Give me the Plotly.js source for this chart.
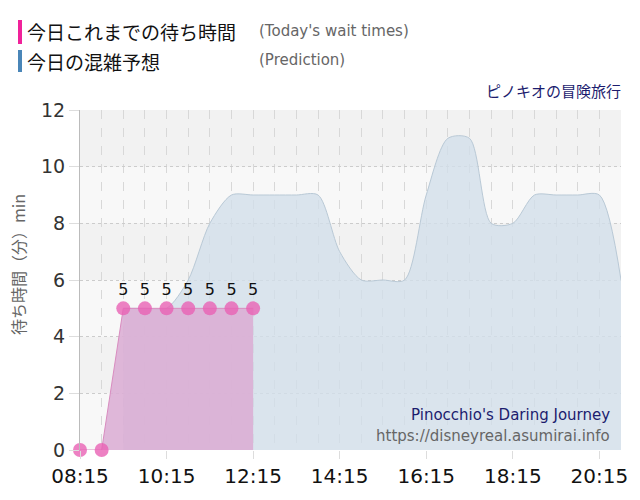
<!DOCTYPE html>
<html>
<head>
<meta charset="utf-8">
<script src="https://cdn.plot.ly/plotly-3.0.1.min.js"></script>
<style>html,body{margin:0;padding:0;background:#fff;}#chart{width:640px;height:500px;}</style>
</head>
<body>
<div id="chart"></div>
<script>
// Today's actual wait times (minutes)
const actualTimes = ["08:15","08:45","09:15","09:45","10:15","10:45","11:15","11:45","12:15"];
const actualWaits = [0, 0, 5, 5, 5, 5, 5, 5, 5];

// Predicted wait times (minutes)
const predTimes = ["09:15","09:45","10:15","10:45","11:15","11:45","12:15","12:45","13:15","13:45",
                   "14:15","14:45","15:15","15:45","16:15","16:45","17:15","17:45","18:15","18:45",
                   "19:15","19:45","20:15","20:45"];
const predWaits = [5, 5, 5, 6, 8, 9, 9, 9, 9, 9,
                   7, 6, 6, 6, 9, 11, 11, 8, 8, 9,
                   9, 9, 9, 6];

const day = "2024-01-01 ";
const toDate = t => day + t;

const px = x => (x - 80) / 541;
const py = y => (450 - y) / 340;

const jp = '"Noto Sans CJK JP", "Noto Sans", sans-serif';
const lat = '"DejaVu Sans", Verdana, sans-serif';

const traces = [
  {
    x: predTimes.map(toDate), y: predWaits,
    type: 'scatter', mode: 'lines',
    line: {shape: 'spline', smoothing: 0.8, color: '#b9c9d6', width: 1},
    fill: 'tozeroy', fillcolor: 'rgba(210,223,234,0.8)',
    hoverinfo: 'skip', showlegend: false
  },
  {
    x: actualTimes.map(toDate), y: actualWaits,
    type: 'scatter', mode: 'lines+markers+text',
    line: {color: '#d98cc0', width: 1},
    marker: {size: 14, color: 'rgba(232,98,180,0.8)'},
    fill: 'tozeroy', fillcolor: 'rgba(219,173,212,0.88)',
    text: actualWaits.map(v => v > 0 ? String(v) : ''),
    textposition: 'top center',
    textfont: {family: lat, size: 16, color: '#111'},
    cliponaxis: false,
    hoverinfo: 'skip', showlegend: false
  }
];

const shapes = [];
[[2,4],[6,8],[10,12]].forEach(b => shapes.push({
  type: 'rect', xref: 'paper', yref: 'y', x0: 0, x1: 1, y0: b[0], y1: b[1],
  fillcolor: '#f2f2f2', line: {width: 0}, layer: 'below'
}));
shapes.push({type: 'rect', xref: 'paper', yref: 'paper', x0: px(18), x1: px(22), y0: py(44), y1: py(20),
  fillcolor: '#f0229a', line: {width: 0}});
shapes.push({type: 'rect', xref: 'paper', yref: 'paper', x0: px(18), x1: px(22), y0: py(72), y1: py(50),
  fillcolor: '#4a86b8', line: {width: 0}});

const annotations = [
  {text: '今日これまでの待ち時間', x: px(25), y: py(32), font: {family: jp, size: 19, color: '#111'}},
  {text: "(Today's wait times)", x: px(257), y: py(31), font: {family: lat, size: 15, color: '#666'}},
  {text: '今日の混雑予想', x: px(25), y: py(61), font: {family: jp, size: 19, color: '#111'}},
  {text: '(Prediction)', x: px(257), y: py(60), font: {family: lat, size: 15, color: '#666'}},
  {text: 'ピノキオの冒険旅行', x: px(623), y: py(90), xanchor: 'right', font: {family: jp, size: 15, color: '#1c1c6e'}},
  {text: "Pinocchio's Daring Journey", x: px(612), y: py(415), xanchor: 'right', font: {family: lat, size: 15, color: '#1c1c6e'}},
  {text: 'https://disneyreal.asumirai.info', x: px(612), y: py(436), xanchor: 'right', font: {family: lat, size: 15, color: '#666'}},
  {text: '待ち時間（分）min', x: px(18), y: py(265), xanchor: 'center', textangle: -90, font: {family: jp, size: 16, color: '#666'}}
].map(a => Object.assign({xref: 'paper', yref: 'paper', showarrow: false, xanchor: 'left', yanchor: 'middle'}, a));

const layout = {
  width: 640, height: 500,
  margin: {l: 80, r: 19, t: 110, b: 50},
  paper_bgcolor: '#ffffff',
  plot_bgcolor: '#f8f8f8',
  showlegend: false,
  xaxis: {
    type: 'date',
    range: [toDate('08:15'), toDate('20:45')],
    tick0: toDate('08:15'), dtick: 7200000,
    tickformat: '%H:%M',
    tickfont: {family: lat, size: 20, color: '#111'},
    ticks: 'outside', ticklen: 8, tickcolor: '#dddddd',
    showgrid: true, gridcolor: '#d8d8d8', griddash: 'dash', gridwidth: 1,
    minor: {dtick: 1800000, tick0: toDate('08:15'), showgrid: true, gridcolor: '#d8d8d8', griddash: 'dash', gridwidth: 1},
    showline: false, zeroline: false, fixedrange: true
  },
  yaxis: {
    range: [0, 12], dtick: 2,
    tickfont: {family: lat, size: 19, color: '#333'},
    ticks: 'outside', ticklen: 10, tickcolor: '#dddddd',
    showgrid: true, gridcolor: '#cccccc', griddash: 'dot', gridwidth: 1,
    showline: true, linecolor: '#bbbbbb', linewidth: 1,
    zeroline: false,
    fixedrange: true
  },
  shapes: shapes,
  annotations: annotations
};

Plotly.newPlot('chart', traces, layout, {displayModeBar: false, staticPlot: true});
</script>
</body>
</html>
